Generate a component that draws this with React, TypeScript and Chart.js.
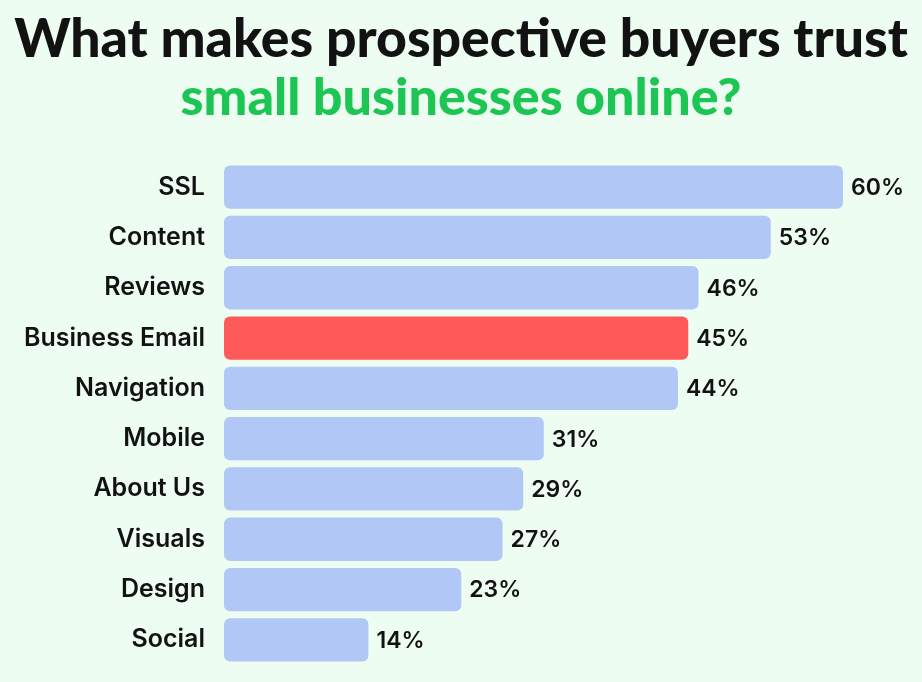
import React, { useEffect, useRef } from "react";
import { Chart, registerables } from "chart.js";

Chart.register(...registerables);

const categories = ["SSL", "Content", "Reviews", "Business Email", "Navigation", "Mobile", "About Us", "Visuals", "Design", "Social"];
const values = [60, 53, 46, 45, 44, 31, 29, 27, 23, 14];
const highlightCategory = "Business Email";
const titleLine1 = "What makes prospective buyers trust";
const titleLine2 = "small businesses online?";

const BG = "#eefdf2";
const BLUE = "#b1c8f6";
const RED = "#ff5a5a";
const GREEN = "#1dc654";
const INK = "#121212";

export default function App() {
  const ref = useRef<HTMLCanvasElement | null>(null);
  useEffect(() => {
    document.body.style.margin = "0";
    document.body.style.background = BG;
    const canvas = ref.current!;
    const overlay = {
      id: "overlay",
      beforeDraw(chart: any) {
        const { ctx, width, height } = chart;
        ctx.save();
        ctx.fillStyle = BG;
        ctx.fillRect(0, 0, width, height);
        ctx.restore();
      },
      afterDraw(chart: any) {
        const { ctx } = chart;
        ctx.save();
        ctx.textAlign = "center";
        ctx.textBaseline = "middle";
        ctx.font = "900 53.5px Lato";
        ctx.fillStyle = INK;
        ctx.fillText(titleLine1, 461, 40);
        ctx.font = "900 52px Lato";
        ctx.fillStyle = GREEN;
        ctx.fillText(titleLine2, 461, 98);
        const meta = chart.getDatasetMeta(0);
        ctx.textAlign = "left";
        ctx.font = "600 23px Inter";
        ctx.fillStyle = INK;
        meta.data.forEach((bar: any, i: number) => {
          ctx.fillText(values[i] + "%", bar.x + 8, bar.y + 1);
        });
        ctx.restore();
      },
    };
    const chart = new Chart(canvas, {
      type: "bar",
      data: {
        labels: categories,
        datasets: [
          {
            data: values,
            backgroundColor: categories.map((c) => (c === highlightCategory ? RED : BLUE)),
            borderRadius: 6,
            borderSkipped: false,
            barPercentage: 0.86,
            categoryPercentage: 1,
          },
        ],
      },
      options: {
        indexAxis: "y",
        animation: false,
        responsive: false,
        layout: { padding: { top: 162, bottom: 17, right: 79, left: 0 } },
        plugins: { legend: { display: false }, tooltip: { enabled: false } },
        scales: {
          x: { display: false, min: 0, max: 60 },
          y: {
            grid: { display: false },
            border: { display: false },
            afterFit: (s: any) => {
              s.width = 224;
              s.paddingTop = 0;
              s.paddingBottom = 0;
            },
            ticks: {
              padding: 11,
              color: INK,
              font: { family: "Inter", size: 25, weight: "600" },
            },
          },
        },
      },
      plugins: [overlay],
    });
    return () => chart.destroy();
  }, []);
  return (
    <div style={{ width: 922, height: 682, background: BG }}>
      <canvas ref={ref} width={922} height={682} style={{ display: "block" }} />
    </div>
  );
}
